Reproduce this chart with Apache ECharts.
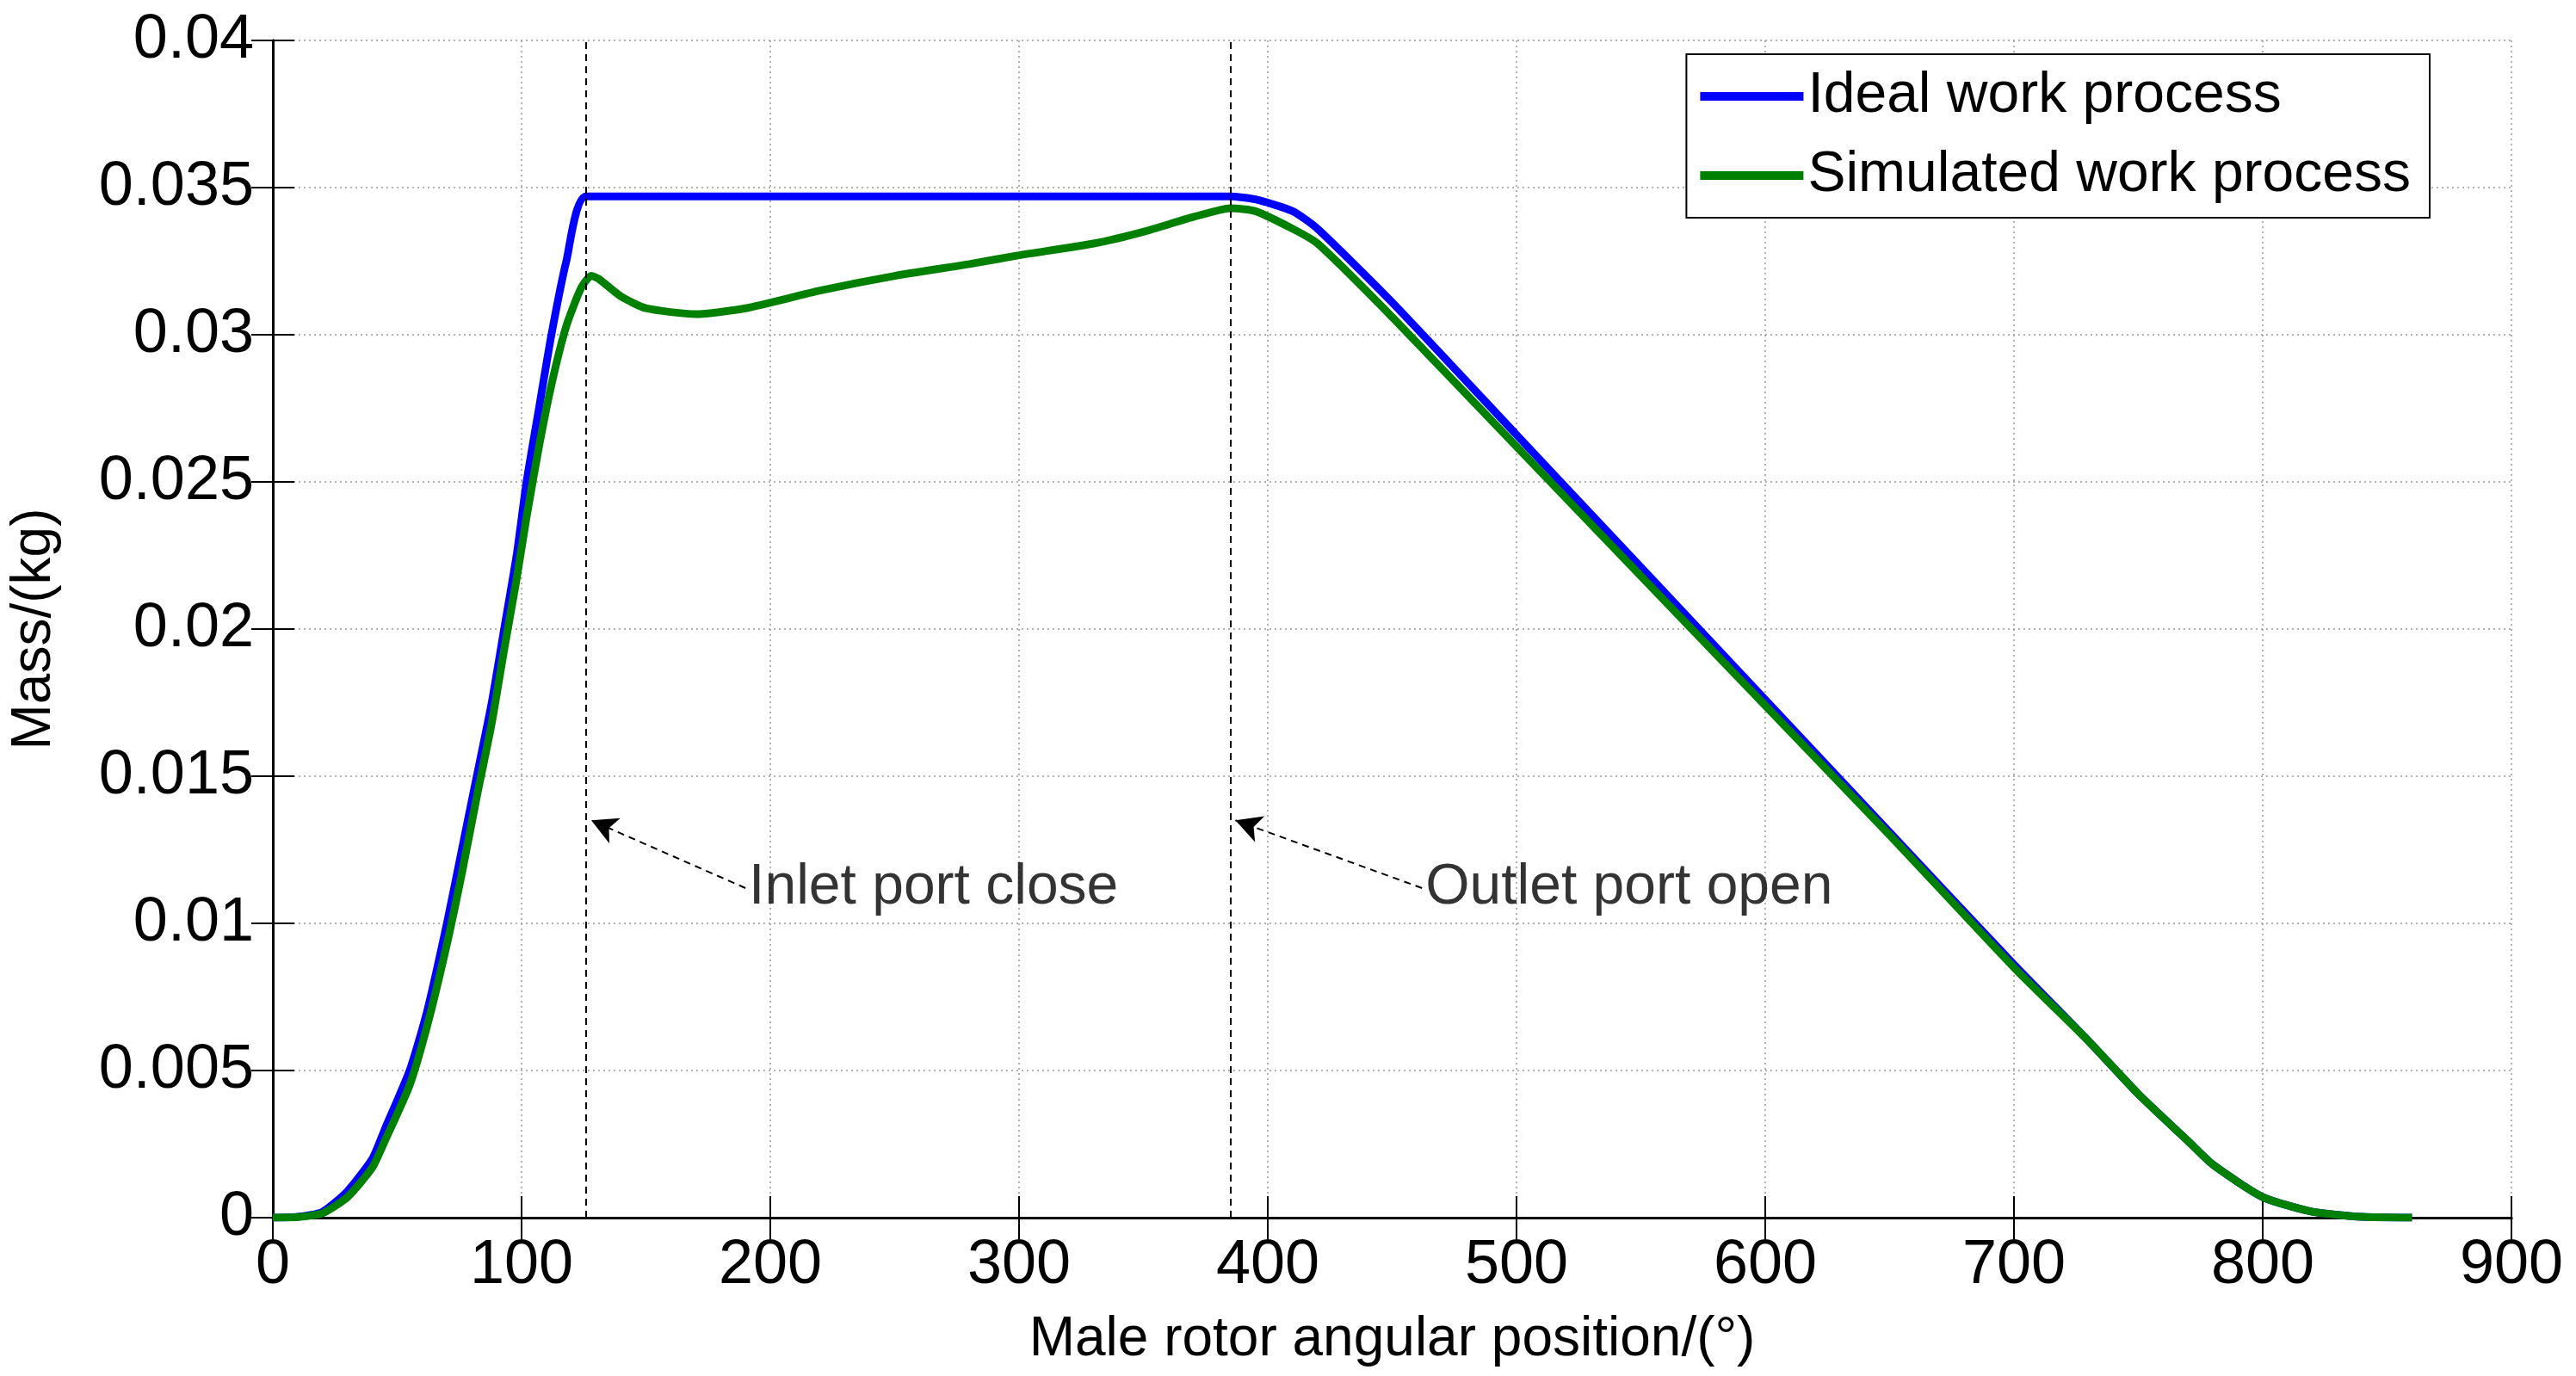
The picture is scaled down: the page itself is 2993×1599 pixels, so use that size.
<!DOCTYPE html>
<html><head><meta charset="utf-8">
<script src="https://cdn.jsdelivr.net/npm/echarts@6/dist/echarts.min.js"></script>
<style>html,body{margin:0;padding:0;background:#fff}#c{width:2993px;height:1599px}</style>
</head><body><div id="c"></div>
<script>
var idealX = [0,10,20,30,40,45,55,62,70,76,82,88,93,98,102,107,112,118,126,200,300,385,395,410,420,450,500,550,600,650,700,730,750,770,780,800,820,840,860];
var idealY = [0,0.00003,0.0002,0.0009,0.002,0.003,0.005,0.007,0.01,0.0125,0.015,0.0175,0.02,0.0225,0.025,0.0275,0.03,0.0325,0.0347,0.0347,0.0347,0.0347,0.0346,0.0342,0.0336,0.0311,0.0266,0.0221,0.0176,0.0131,0.0086,0.006,0.0042,0.0026,0.0018,0.0007,0.0002,0.00003,0];
var simX = [0,10,20,30,40,45,55,62,70,76,82,88,93,98,102,107,112,118,124,128,131,140,150,170,190,220,250,280,300,330,350,370,385,395,410,420,450,500,550,600,650,700,730,750,770,780,800,820,840,860];
var simY = [0,0.00002,0.00015,0.0007,0.0017,0.0026,0.0045,0.0065,0.0093,0.0117,0.0143,0.0168,0.0193,0.0217,0.0238,0.0262,0.0283,0.0303,0.0316,0.032,0.0319,0.0313,0.0309,0.0307,0.0309,0.0315,0.032,0.0324,0.0327,0.0331,0.0335,0.034,0.0343,0.0342,0.0336,0.0331,0.0306,0.0262,0.0218,0.0174,0.013,0.0085,0.006,0.0042,0.0026,0.0018,0.0007,0.0002,0.00003,0];
var portLines = [126, 385];
var notes = [
  {text: 'Inlet port close', tip: [128, 0.0135], tail: [190, 0.0112]},
  {text: 'Outlet port open', tip: [387, 0.0135], tail: [462, 0.0112]}
];
var yTicks = ['0','0.005','0.01','0.015','0.02','0.025','0.03','0.035','0.04'];

function pairs(xs, ys) { return xs.map(function (x, i) { return [x, ys[i]]; }); }
var font = 'Liberation Sans, Arial, sans-serif';
var chart = echarts.init(document.getElementById('c'));
var split = {show: true, lineStyle: {color: '#999', type: [2, 4], width: 1.5}};
var axLine = {show: true, lineStyle: {color: '#000', width: 3}};
var tick = {show: true, inside: true, length: 25, lineStyle: {color: '#000', width: 2}};
chart.setOption({
  animation: false,
  backgroundColor: '#fff',
  grid: {left: 293, right: 75, top: 47, bottom: 184},
  legend: {
    right: 170, top: 63, orient: 'vertical', itemGap: 26, itemWidth: 120, itemHeight: 10,
    padding: [16, 22, 16, 16], borderColor: '#000', borderWidth: 2, backgroundColor: '#fff',
    icon: 'rect',
    textStyle: {fontFamily: font, fontSize: 66, color: '#000'},
    data: ['Ideal work process', 'Simulated work process']
  },
  xAxis: [{
    type: 'value', min: 0, max: 900, interval: 100,
    name: 'Male rotor angular position/(°)', nameLocation: 'middle', nameGap: 110,
    nameTextStyle: {fontFamily: font, fontSize: 64, color: '#000'},
    axisLine: axLine, axisTick: tick,
    axisLabel: {fontFamily: font, fontSize: 72, color: '#000', margin: 20},
    splitLine: split
  }, {
    type: 'value', min: 0, max: 900, interval: 100, position: 'top',
    axisLine: axLine, axisTick: tick, axisLabel: {show: false}, splitLine: {show: false}
  }],
  yAxis: [{
    type: 'value', min: 0, max: 0.04, interval: 0.005,
    name: 'Mass/(kg)', nameLocation: 'middle', nameGap: 245,
    nameTextStyle: {fontFamily: font, fontSize: 64, color: '#000'},
    axisLine: axLine, axisTick: tick,
    axisLabel: {fontFamily: font, fontSize: 72, color: '#000', margin: 22,
      formatter: function (v) { return yTicks[Math.round(v / 0.005)]; }},
    splitLine: split
  }, {
    type: 'value', min: 0, max: 0.04, interval: 0.005, position: 'right',
    axisLine: axLine, axisTick: tick, axisLabel: {show: false}, splitLine: {show: false}
  }],
  series: [{
    name: 'Ideal work process', type: 'line', data: pairs(idealX, idealY), smooth: 0.2,
    showSymbol: false, lineStyle: {color: '#0000ff', width: 9}, itemStyle: {color: '#0000ff'},
    markLine: {
      silent: true, symbol: 'none', label: {show: false},
      lineStyle: {color: '#000', type: [8, 6], width: 2},
      data: portLines.map(function (x) { return {xAxis: x}; })
    }
  }, {
    name: 'Simulated work process', type: 'line', data: pairs(simX, simY), smooth: 0.2,
    showSymbol: false, lineStyle: {color: '#008000', width: 9}, itemStyle: {color: '#008000'},
    markLine: {
      silent: true, symbol: ['none', 'arrow'], symbolSize: [24, 30], label: {show: false},
      lineStyle: {color: '#000', type: [8, 6], width: 2},
      data: notes.map(function (n) { return [{coord: n.tail}, {coord: n.tip}]; })
    }
  }, {
    type: 'scatter', symbolSize: 0, silent: true,
    data: notes.map(function (n) { return {value: n.tail, name: n.text}; }),
    label: {show: true, position: 'right', distance: 4, formatter: '{b}',
      fontFamily: font, fontSize: 66, color: '#000'}
  }]
});
</script></body></html>
